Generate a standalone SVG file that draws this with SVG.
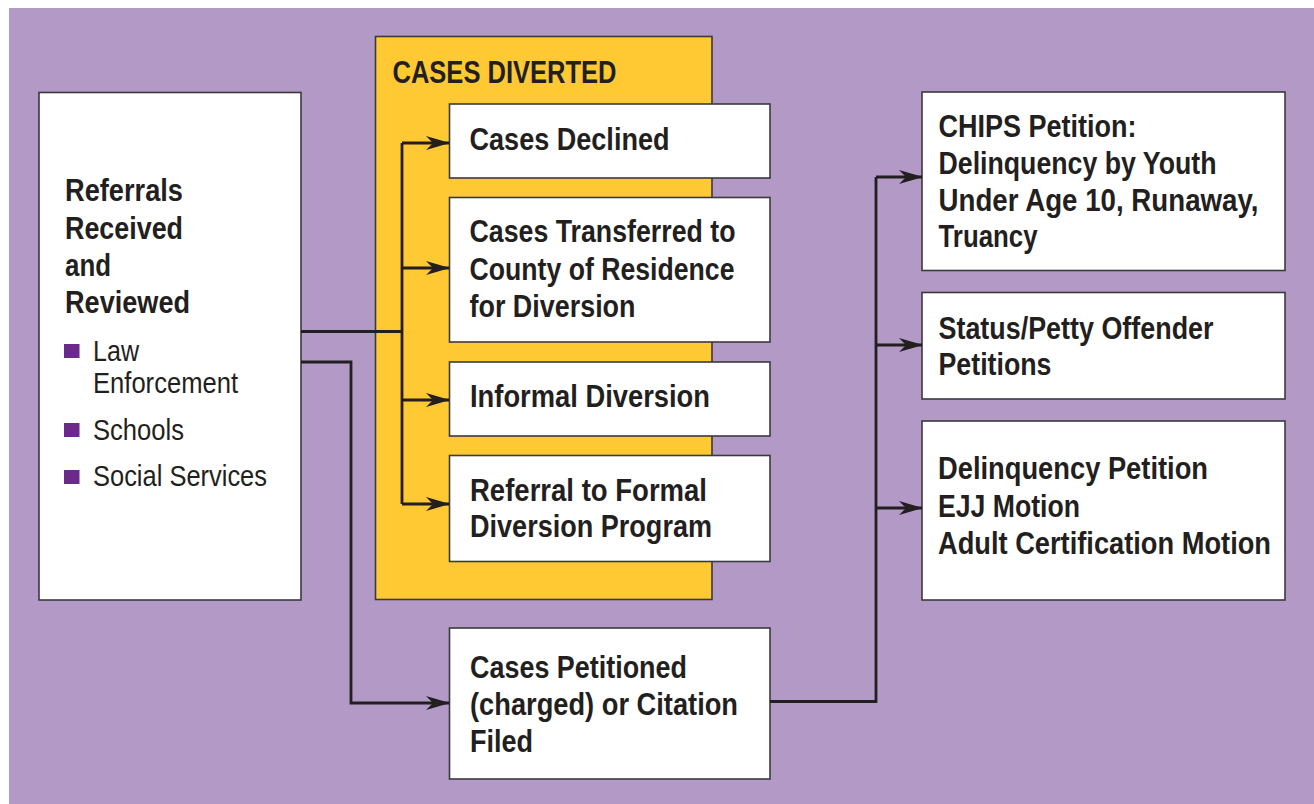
<svg xmlns="http://www.w3.org/2000/svg" width="1314" height="804" viewBox="0 0 1314 804">
<defs>
<marker id="arr" markerWidth="24" markerHeight="14" refX="23" refY="7" orient="auto" markerUnits="userSpaceOnUse">
<path d="M0,0 L24,7 L0,14 L7,7 Z" fill="#231f20"/>
</marker>
<style>
.box{fill:#ffffff;stroke:#3a3a3c;stroke-width:1.6}
.t{font-family:"Liberation Sans",Arial,sans-serif;font-weight:bold;font-size:31px;fill:#231f20}
.r{font-family:"Liberation Sans",Arial,sans-serif;font-weight:normal;font-size:30px;fill:#231f20}
.c{fill:none;stroke:#231f20;stroke-width:2.8}
.b{fill:#6b2a8a}
</style>
</defs>
<rect x="0" y="0" width="1314" height="804" fill="#ffffff"/>
<rect x="9" y="8" width="1305" height="796" fill="#b399c6"/>

<g id="referrals">
<rect class="box" x="39" y="92.5" width="262" height="507.5"/>
<text class="t" x="65" y="201" textLength="118" lengthAdjust="spacingAndGlyphs">Referrals</text>
<text class="t" x="65" y="238.5" textLength="118" lengthAdjust="spacingAndGlyphs">Received</text>
<text class="t" x="65" y="275.5" textLength="46" lengthAdjust="spacingAndGlyphs">and</text>
<text class="t" x="65" y="313" textLength="125" lengthAdjust="spacingAndGlyphs">Reviewed</text>
<rect class="b" x="64" y="344" width="15.5" height="14"/>
<rect class="b" x="64" y="423" width="15.5" height="14"/>
<rect class="b" x="64" y="470" width="15.5" height="14"/>
<text class="r" x="93" y="361" textLength="46" lengthAdjust="spacingAndGlyphs">Law</text>
<text class="r" x="93" y="393" textLength="145" lengthAdjust="spacingAndGlyphs">Enforcement</text>
<text class="r" x="93" y="439.5" textLength="91" lengthAdjust="spacingAndGlyphs">Schools</text>
<text class="r" x="93" y="486" textLength="174" lengthAdjust="spacingAndGlyphs">Social Services</text>
</g>

<g id="cases-diverted">
<rect x="375.5" y="36.5" width="336.5" height="563" fill="#ffc933" stroke="#3a3a3c" stroke-width="1.6"/>
<text class="t" x="392.5" y="82.5" textLength="224" lengthAdjust="spacingAndGlyphs">CASES DIVERTED</text>
</g>

<g id="declined">
<rect class="box" x="449.5" y="104" width="320.5" height="74"/>
<text class="t" x="469.5" y="149.5" textLength="200" lengthAdjust="spacingAndGlyphs">Cases Declined</text>
</g>

<g id="transferred">
<rect class="box" x="449.5" y="197.5" width="320.5" height="144.5"/>
<text class="t" x="469.5" y="242" textLength="266" lengthAdjust="spacingAndGlyphs">Cases Transferred to</text>
<text class="t" x="469.5" y="279.5" textLength="265" lengthAdjust="spacingAndGlyphs">County of Residence</text>
<text class="t" x="469.5" y="317" textLength="166" lengthAdjust="spacingAndGlyphs">for Diversion</text>
</g>

<g id="informal">
<rect class="box" x="449.5" y="362" width="320.5" height="74"/>
<text class="t" x="470" y="407" textLength="240" lengthAdjust="spacingAndGlyphs">Informal Diversion</text>
</g>

<g id="formal">
<rect class="box" x="449.5" y="455.5" width="320.5" height="106"/>
<text class="t" x="470" y="501" textLength="237" lengthAdjust="spacingAndGlyphs">Referral to Formal</text>
<text class="t" x="470" y="537" textLength="242" lengthAdjust="spacingAndGlyphs">Diversion Program</text>
</g>

<g id="petitioned">
<rect class="box" x="449.5" y="628" width="320.5" height="151"/>
<text class="t" x="470" y="678" textLength="217" lengthAdjust="spacingAndGlyphs">Cases Petitioned</text>
<text class="t" x="470" y="715" textLength="268" lengthAdjust="spacingAndGlyphs">(charged) or Citation</text>
<text class="t" x="470" y="752" textLength="63" lengthAdjust="spacingAndGlyphs">Filed</text>
</g>

<g id="chips">
<rect class="box" x="922" y="92" width="363" height="178.5"/>
<text class="t" x="938.5" y="137" textLength="198" lengthAdjust="spacingAndGlyphs">CHIPS Petition:</text>
<text class="t" x="938.5" y="174" textLength="278" lengthAdjust="spacingAndGlyphs">Delinquency by Youth</text>
<text class="t" x="938.5" y="211" textLength="320" lengthAdjust="spacingAndGlyphs">Under Age 10, Runaway,</text>
<text class="t" x="938.5" y="247" textLength="99" lengthAdjust="spacingAndGlyphs">Truancy</text>
</g>

<g id="status">
<rect class="box" x="922" y="292.5" width="363" height="106.5"/>
<text class="t" x="938.5" y="338.5" textLength="275" lengthAdjust="spacingAndGlyphs">Status/Petty Offender</text>
<text class="t" x="938.5" y="374.5" textLength="113" lengthAdjust="spacingAndGlyphs">Petitions</text>
</g>

<g id="delinquency">
<rect class="box" x="922" y="421" width="363" height="179"/>
<text class="t" x="938" y="479" textLength="270" lengthAdjust="spacingAndGlyphs">Delinquency Petition</text>
<text class="t" x="938" y="516.5" textLength="142" lengthAdjust="spacingAndGlyphs">EJJ Motion</text>
<text class="t" x="938" y="554" textLength="333" lengthAdjust="spacingAndGlyphs">Adult Certification Motion</text>
</g>

<g id="connectors">
<polyline class="c" points="301,331.5 402,331.5"/>
<polyline class="c" points="402,143 402,504"/>
<line class="c" x1="402" y1="143" x2="449" y2="143" marker-end="url(#arr)"/>
<line class="c" x1="402" y1="268" x2="449" y2="268" marker-end="url(#arr)"/>
<line class="c" x1="402" y1="400" x2="449" y2="400" marker-end="url(#arr)"/>
<line class="c" x1="402" y1="504" x2="449" y2="504" marker-end="url(#arr)"/>
<polyline class="c" points="301,362 351,362 351,703 449,703" marker-end="url(#arr)"/>
<polyline class="c" points="770,701.5 876,701.5 876,177"/>
<line class="c" x1="876" y1="177" x2="922" y2="177" marker-end="url(#arr)"/>
<line class="c" x1="876" y1="345" x2="922" y2="345" marker-end="url(#arr)"/>
<line class="c" x1="876" y1="508" x2="922" y2="508" marker-end="url(#arr)"/>
</g>
</svg>
